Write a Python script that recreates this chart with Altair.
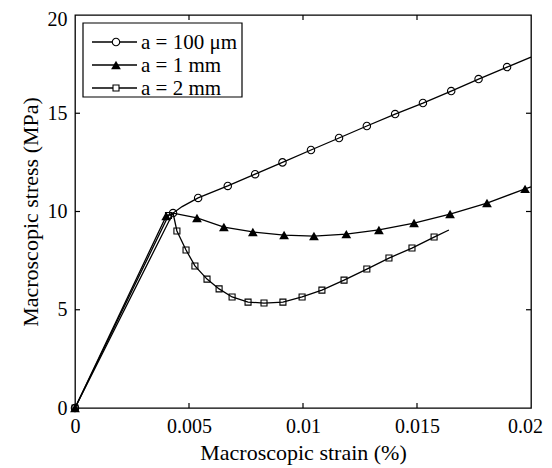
import altair as alt
import pandas as pd

# ---- data ----
series_names = ["a = 100 μm", "a = 1 mm", "a = 2 mm"]

# a = 100 um : markers
c_x = [0, 0.0043, 0.0054, 0.0067, 0.0079, 0.0091, 0.01035, 0.01158, 0.0128, 0.01404, 0.01526, 0.0165, 0.0177, 0.01895]
c_y = [0, 9.92, 10.69, 11.3, 11.9, 12.5, 13.13, 13.74, 14.35, 14.96, 15.52, 16.13, 16.74, 17.35]
# line-only points
c_lx = [0.0047, 0.02]
c_ly = [10.25, 17.86]

# a = 1 mm : markers
t_x = [0, 0.0040, 0.00535, 0.00653, 0.0078, 0.00917, 0.01048, 0.0119, 0.01333, 0.01487, 0.01645, 0.01807, 0.01974]
t_y = [0, 9.77, 9.67, 9.21, 8.96, 8.8, 8.75, 8.85, 9.06, 9.41, 9.87, 10.43, 11.15]
t_lx = [0.0043, 0.02]
t_ly = [9.92, 11.25]

# a = 2 mm : markers
s_x = [0, 0.0041, 0.00447, 0.00487, 0.00526, 0.00579, 0.00632, 0.00689, 0.00759, 0.00829, 0.00912, 0.00996, 0.01083, 0.0118, 0.0128, 0.01377, 0.01478, 0.01575]
s_y = [0, 9.8, 9.01, 8.04, 7.23, 6.56, 6.06, 5.65, 5.39, 5.34, 5.39, 5.65, 6.0, 6.51, 7.07, 7.63, 8.14, 8.7]
s_lx = [0.0043, 0.0164]
s_ly = [9.92, 9.06]

x_ticks = [0, 0.005, 0.01, 0.015, 0.02]
y_ticks = [0, 5, 10, 15, 20]

# ---- layout ----
W, H = 456, 393
TOP = 7
FONT = "'Liberation Serif', 'Times New Roman', serif"

xs = alt.Scale(domain=[0, 0.02], nice=False, zero=False)
ys = alt.Scale(domain=[0, 20], nice=False, zero=False)
xaxis = alt.Axis(values=x_ticks, format="~g", title="Macroscopic strain (%)",
                 ticks=False, grid=False, domain=False, labelPadding=8, labelFlush=False,
                 labelOffset={"condition": {"test": "datum.value == 0.02", "value": -6}, "value": 0},
                 labelFont=FONT, labelFontSize=20, labelColor="black",
                 titleFont=FONT, titleFontSize=22, titleFontWeight="normal", titleColor="black",
                 titleX=W / 2, titleY=51, titleBaseline="alphabetic", titleAlign="center")
yaxis = alt.Axis(values=y_ticks, format="~g", title="Macroscopic stress (MPa)",
                 ticks=False, grid=False, domain=False, labelPadding=8, labelFlush=False,
                 labelOffset={"condition": {"test": "datum.value == 20", "value": 4}, "value": 0},
                 labelFont=FONT, labelFontSize=20, labelColor="black",
                 titleFont=FONT, titleFontSize=22, titleFontWeight="normal", titleColor="black",
                 titleX=-38, titleY=H / 2, titleBaseline="alphabetic", titleAlign="center", titleAngle=-90)

X = lambda f: alt.X(f"{f}:Q", scale=xs, axis=xaxis)
Y = lambda f: alt.Y(f"{f}:Q", scale=ys, axis=yaxis)


def line_df(mx, my, lx, ly):
    df = pd.DataFrame({"strain": list(mx) + list(lx), "stress": list(my) + list(ly)})
    return df.sort_values("strain")


layers = []
specs = [
    (c_x, c_y, c_lx, c_ly, "circle", False, 55),
    (t_x, t_y, t_lx, t_ly, "triangle-up", True, 95),
    (s_x, s_y, s_lx, s_ly, "square", False, 36),
]
for mx, my, lx, ly, shape, filled, size in specs:
    ldf = line_df(mx, my, lx, ly)
    layers.append(alt.Chart(ldf).mark_line(color="black", strokeWidth=1.3).encode(
        x=X("strain"), y=Y("stress"), order="strain:Q"))
for mx, my, lx, ly, shape, filled, size in specs:
    pdf = pd.DataFrame({"strain": mx, "stress": my})
    layers.append(alt.Chart(pdf).mark_point(
        shape=shape, filled=filled, color="black", size=size, strokeWidth=1.1, opacity=1
    ).encode(x=X("strain"), y=Y("stress")))

# inward ticks on all four sides
xt = pd.DataFrame({"strain": x_ticks[1:-1]})
yt = pd.DataFrame({"stress": y_ticks[1:-1]})
layers.append(alt.Chart(xt).mark_rule(color="black", strokeWidth=1.2).encode(
    x=X("strain"), y=alt.value(H), y2=alt.value(H - 5)))
layers.append(alt.Chart(xt).mark_rule(color="black", strokeWidth=1.2).encode(
    x=X("strain"), y=alt.value(0), y2=alt.value(5)))
layers.append(alt.Chart(yt).mark_rule(color="black", strokeWidth=1.2).encode(
    y=Y("stress"), x=alt.value(0), x2=alt.value(5)))
layers.append(alt.Chart(yt).mark_rule(color="black", strokeWidth=1.2).encode(
    y=Y("stress"), x=alt.value(W), x2=alt.value(W - 5)))

# legend box
one = pd.DataFrame({"k": [0]})
layers.append(alt.Chart(one).mark_rect(fill="white", stroke="black", strokeWidth=1.2).encode(
    x=alt.value(8), x2=alt.value(167), y=alt.value(8), y2=alt.value(82)))
leg_y = [27, 50, 73]
for i, (nm, sp) in enumerate(zip(series_names, specs)):
    shape, filled, size = sp[4], sp[5], sp[6]
    yy = leg_y[i]
    layers.append(alt.Chart(one).mark_rule(color="black", strokeWidth=1.3).encode(
        x=alt.value(17), x2=alt.value(62), y=alt.value(yy)))
    layers.append(alt.Chart(one).mark_point(
        shape=shape, filled=filled, color="black", size=size, strokeWidth=1.1, opacity=1,
        fill="black" if filled else "white").encode(x=alt.value(41), y=alt.value(yy)))
    layers.append(alt.Chart(one).mark_text(
        text=nm, font=FONT, fontSize=21, align="left", baseline="middle", color="black"
    ).encode(x=alt.value(66), y=alt.value(yy + 1)))

chart = alt.layer(*layers).properties(
    width=W, height=H,
    autosize=alt.AutoSizeParams(type="none"),
    padding={"left": 67, "top": TOP, "right": 13, "bottom": 57},
).configure(background="white", font=FONT).configure_view(
    stroke="black", strokeWidth=1.3
).configure_axis(labelFont=FONT, titleFont=FONT).configure_text(font=FONT)

chart.save("out.html", embed_options={"renderer": "svg", "actions": False})
